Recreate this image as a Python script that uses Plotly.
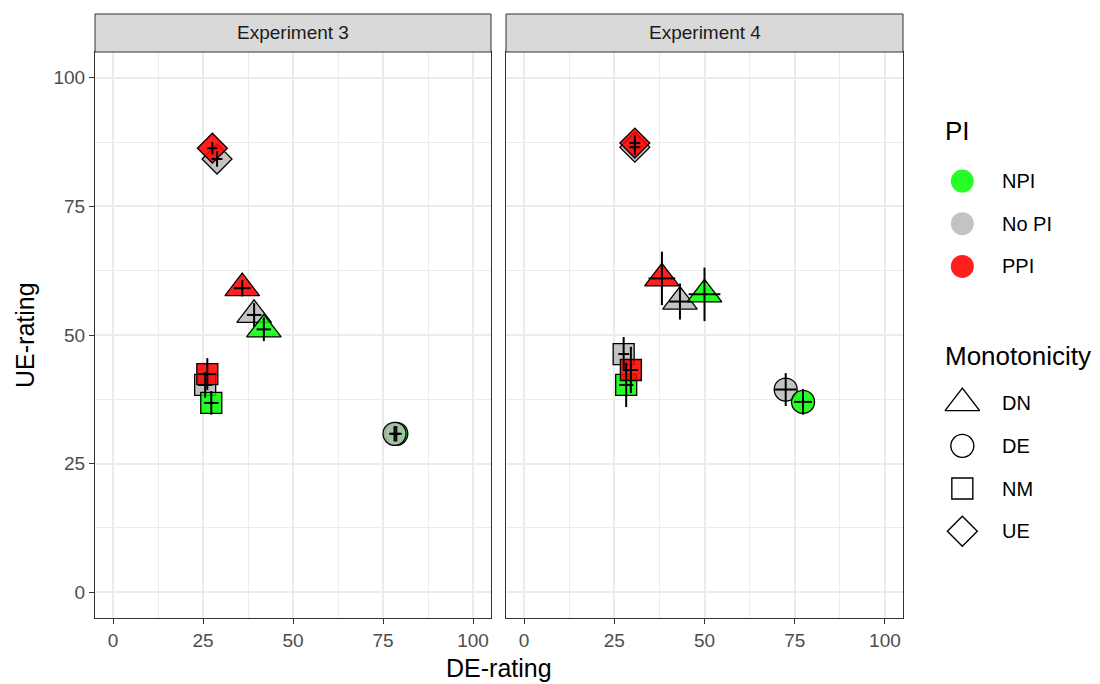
import plotly.graph_objects as go

# ---------------- data ----------------
experiments = ["Experiment 3", "Experiment 4"]
pi_levels = ["NPI", "No PI", "PPI"]
mono_levels = ["DN", "DE", "NM", "UE"]

# Experiment 3
e3_pi   = ["NPI", "No PI", "PPI", "NPI", "No PI", "NPI", "No PI", "PPI", "No PI", "PPI"]
e3_mono = ["DN",  "DN",    "DN",  "DE",  "DE",    "NM",  "NM",    "NM",  "UE",    "UE"]
e3_de   = [41.9,  39.2,    35.9,  78.7,  78.2,    27.3,  25.6,    26.2,  28.9,    27.6]
e3_ue   = [51.1,  53.9,    59.1,  30.8,  30.8,    36.8,  40.3,    42.4,  84.2,    86.3]
e3_de_se = [2.0,  2.0,     2.3,   1.5,   1.5,     2.0,   2.0,     2.5,   1.5,     1.4]
e3_ue_se = [2.3,  2.3,     1.6,   1.5,   1.5,     2.3,   2.5,     3.1,   1.5,     1.2]

# Experiment 4
e4_pi   = ["NPI", "No PI", "PPI", "NPI", "No PI", "NPI", "No PI", "PPI", "No PI", "PPI"]
e4_mono = ["DN",  "DN",    "DN",  "DE",  "DE",    "NM",  "NM",    "NM",  "UE",    "UE"]
e4_de   = [50.0,  43.2,    38.2,  77.3,  72.5,    28.3,  27.6,    29.6,  30.7,    30.7]
e4_ue   = [57.9,  56.5,    61.0,  37.0,  39.4,    40.3,  46.3,    43.2,  86.5,    87.3]
e4_de_se = [4.4,  3.0,     3.7,   2.5,   3.0,     2.0,   1.5,     2.0,   1.5,     1.5]
e4_ue_se = [5.2,  3.5,     5.2,   2.5,   3.2,     4.3,   3.3,     4.5,   1.5,     1.5]

tick_vals = [0, 25, 50, 75, 100]
tick_text = ["0", "25", "50", "75", "100"]

# drawing order of the points (bottom to top) within each panel
e3_order = [3, 4, 1, 0, 2, 6, 5, 7, 8, 9]
e4_order = [1, 0, 2, 4, 3, 6, 5, 7, 8, 9]

# ---------------- styles ----------------
pi_colors = {"NPI": "rgba(0,255,0,0.85)", "No PI": "rgba(185,185,185,0.85)", "PPI": "rgba(255,0,0,0.88)"}
mono_symbols = {"DN": "triangle-up", "DE": "circle", "NM": "square", "UE": "diamond"}
mono_sizes = {"DN": 30, "DE": 23, "NM": 21, "UE": 23}
FONT = "Liberation Sans, Arial, sans-serif"

fig = go.Figure()

panels = [
    ("x", "y", e3_pi, e3_mono, e3_de, e3_ue, e3_de_se, e3_ue_se, e3_order),
    ("x2", "y2", e4_pi, e4_mono, e4_de, e4_ue, e4_de_se, e4_ue_se, e4_order),
]

for xa, ya, pis, monos, de, ue, dse, use, order in panels:
    fig.add_trace(go.Scatter(
        x=[de[i] for i in order], y=[ue[i] for i in order],
        xaxis=xa, yaxis=ya, mode="markers", showlegend=False, hoverinfo="skip",
        marker=dict(symbol=[mono_symbols[monos[i]] for i in order],
                    size=[mono_sizes[monos[i]] for i in order], opacity=1,
                    color=[pi_colors[pis[i]] for i in order],
                    line=dict(color="black", width=1.3)),
    ))
    # error bars drawn on top of the points
    fig.add_trace(go.Scatter(
        x=de, y=ue, xaxis=xa, yaxis=ya, mode="markers", showlegend=False, hoverinfo="skip",
        marker=dict(size=1, color="rgba(0,0,0,0)"),
        error_x=dict(type="data", array=dse, color="black", thickness=2, width=0),
        error_y=dict(type="data", array=use, color="black", thickness=2, width=0),
    ))

# ---------------- custom legend (own hidden axis) ----------------
mono_offset = len(pi_levels) + 2.2
pi_slots = list(range(len(pi_levels)))
mono_slots = [mono_offset + i for i in range(len(mono_levels))]

fig.add_trace(go.Scatter(
    x=[0] * len(pi_levels), y=pi_slots, xaxis="x3", yaxis="y3", mode="markers",
    showlegend=False, hoverinfo="skip",
    marker=dict(symbol="circle", size=23, opacity=1, color=[pi_colors[p] for p in pi_levels],
                line=dict(width=0)),
))
fig.add_trace(go.Scatter(
    x=[0] * len(mono_levels), y=mono_slots, xaxis="x3", yaxis="y3", mode="markers",
    showlegend=False, hoverinfo="skip",
    marker=dict(symbol=[mono_symbols[m] for m in mono_levels],
                size=[mono_sizes[m] for m in mono_levels], opacity=1,
                color="white", line=dict(color="black", width=1.4)),
))
for lab, s in list(zip(pi_levels, pi_slots)) + list(zip(mono_levels, mono_slots)):
    fig.add_annotation(x=1, y=s, xref="x3", yref="y3", text=lab, showarrow=False,
                       xanchor="left", yanchor="middle",
                       font=dict(family=FONT, size=20, color="#000000"))
for title, s in [("PI", -1.17), ("Monotonicity", mono_offset - 1.1)]:
    fig.add_annotation(x=-0.52, y=s, xref="x3", yref="y3", text=title, showarrow=False,
                       xanchor="left", yanchor="middle",
                       font=dict(family=FONT, size=26, color="#000000"))

axis_common = dict(
    range=[-5, 105], tickvals=tick_vals, ticktext=tick_text,
    showgrid=True, gridcolor="#EBEBEB", gridwidth=1.8,
    minor=dict(showgrid=True, gridcolor="#EBEBEB", gridwidth=0.9, tick0=0, dtick=12.5),
    zeroline=False, showline=True, linecolor="#333333", linewidth=1, mirror=True,
    ticklen=5, tickwidth=1.3, tickcolor="#333333",
    tickfont=dict(family=FONT, size=19, color="#4D4D4D"),
)

W = 1005.0
d1 = 396 / W
d2a = 411 / W
d2b = 808 / W

fig.update_layout(
    width=1100, height=684,
    margin=dict(l=95, r=0, t=52, b=66),
    paper_bgcolor="white", plot_bgcolor="white",
    font=dict(family=FONT, color="#1A1A1A"),
    showlegend=False,
    xaxis=dict(domain=[0, d1], anchor="y", ticks="outside", **axis_common),
    yaxis=dict(domain=[0, 1], anchor="x", ticks="outside", **axis_common),
    xaxis2=dict(domain=[d2a, d2b], anchor="y2", ticks="outside", **axis_common),
    yaxis2=dict(domain=[0, 1], anchor="x2", ticks="", showticklabels=False, **axis_common),
    xaxis3=dict(domain=[(940 - 95) / W, 1], anchor="y3", range=[-0.6, 3.7], visible=False,
                fixedrange=True),
    yaxis3=dict(domain=[0, 1], anchor="x3", range=[10.23, -3.02], visible=False,
                fixedrange=True),
)

# facet strips
strip_top = 1 + 38 / 566
for name, (x0, x1) in zip(experiments, [(0, d1), (d2a, d2b)]):
    fig.add_shape(type="rect", xref="paper", yref="paper", x0=x0, x1=x1, y0=1, y1=strip_top,
                  fillcolor="#D9D9D9", line=dict(color="#333333", width=1), layer="above")
    fig.add_annotation(x=(x0 + x1) / 2, y=(1 + strip_top) / 2, xref="paper", yref="paper",
                       text=name, showarrow=False, xanchor="center", yanchor="middle",
                       font=dict(family=FONT, size=19, color="#1A1A1A"))

# axis titles
fig.add_annotation(x=(499 - 95) / W, y=(618 - 668) / 566, xref="paper", yref="paper",
                   text="DE-rating", showarrow=False, xanchor="center", yanchor="middle",
                   font=dict(family=FONT, size=25, color="#000000"))
fig.add_annotation(x=(25 - 95) / W, y=0.5, xref="paper", yref="paper", text="UE-rating",
                   showarrow=False, xanchor="center", yanchor="middle", textangle=-90,
                   font=dict(family=FONT, size=25, color="#000000"))

fig.write_html("out.html", post_script="document.body.style.margin='0';",
               config={"displayModeBar": False})
